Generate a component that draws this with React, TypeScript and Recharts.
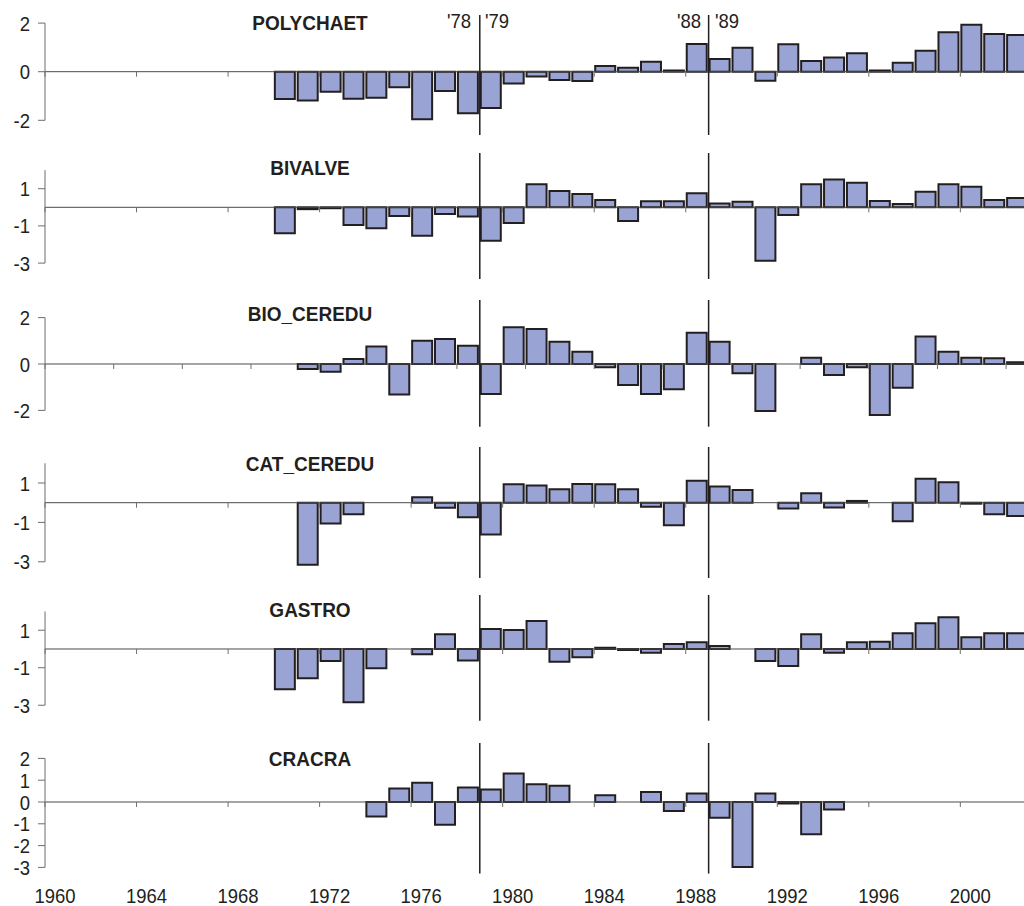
import React from 'react';
import { BarChart, Bar, XAxis, YAxis, ReferenceLine } from 'recharts';

const years = [
  1970, 1971, 1972, 1973, 1974, 1975, 1976, 1977, 1978, 1979,
  1980, 1981, 1982, 1983, 1984, 1985, 1986, 1987, 1988, 1989,
  1990, 1991, 1992, 1993, 1994, 1995, 1996, 1997, 1998, 1999,
  2000, 2001, 2002,
];

const polychaet = [
  -1.12, -1.19, -0.82, -1.11, -1.07, -0.64, -1.96, -0.79, -1.71, -1.49,
  -0.49, -0.2, -0.34, -0.38, 0.23, 0.16, 0.41, 0.05, 1.14, 0.52,
  0.99, -0.37, 1.13, 0.44, 0.58, 0.76, 0.05, 0.37, 0.86, 1.62,
  1.93, 1.55, 1.51,
];
const bivalve = [
  -1.4, -0.1, -0.05, -0.95, -1.13, -0.47, -1.53, -0.36, -0.5, -1.8,
  -0.85, 1.24, 0.88, 0.72, 0.39, -0.74, 0.32, 0.32, 0.75, 0.21,
  0.3, -2.87, -0.41, 1.24, 1.5, 1.32, 0.34, 0.18, 0.84, 1.24,
  1.11, 0.39, 0.5,
];
const bioCeredu = [
  null, -0.22, -0.33, 0.22, 0.75, -1.31, 1.0, 1.08, 0.79, -1.29,
  1.58, 1.51, 0.96, 0.53, -0.14, -0.91, -1.29, -1.09, 1.35, 0.96,
  -0.4, -2.03, null, 0.27, -0.47, -0.14, -2.2, -1.02, 1.18, 0.53,
  0.27, 0.25, 0.07,
];
const catCeredu = [
  null, -3.15, -1.05, -0.59, null, null, 0.28, -0.25, -0.74, -1.61,
  0.94, 0.87, 0.68, 0.95, 0.94, 0.68, -0.2, -1.14, 1.12, 0.82,
  0.65, null, -0.29, 0.48, -0.24, 0.09, null, -0.94, 1.21, 1.04,
  -0.05, -0.58, -0.68,
];
const gastro = [
  -2.15, -1.56, -0.64, -2.84, -1.03, null, -0.28, 0.78, -0.62, 1.07,
  1.01, 1.49, -0.68, -0.44, 0.07, -0.05, -0.2, 0.27, 0.36, 0.16,
  null, -0.64, -0.91, 0.78, -0.2, 0.36, 0.39, 0.84, 1.37, 1.69,
  0.62, 0.84, 0.84,
];
const cracra = [
  null, null, null, null, -0.66, 0.62, 0.88, -1.04, 0.66, 0.57,
  1.31, 0.81, 0.74, null, 0.31, null, 0.46, -0.41, 0.39, -0.72,
  -2.98, 0.39, -0.07, -1.48, -0.34, null, null, null, null, null,
  null, null, null,
];

const titles = ['POLYCHAET', 'BIVALVE', 'BIO_CEREDU', 'CAT_CEREDU', 'GASTRO', 'CRACRA'];
const seriesList = [polychaet, bivalve, bioCeredu, catCeredu, gastro, cracra];
const yTicksList = [
  [2, 0, -2],
  [1, -1, -3],
  [2, 0, -2],
  [1, -1, -3],
  [1, -1, -3],
  [2, 1, 0, -1, -2, -3],
];
const yAxisRange = [
  [-2, 2],
  [-3, 2],
  [-2, 2],
  [-3, 2],
  [-3, 2],
  [-3, 2],
];
const xTicks = [1960, 1964, 1968, 1972, 1976, 1980, 1984, 1988, 1992, 1996, 2000];
const xTicks3 = [1960, 1963, 1966, 1969, 1972, 1975, 1978, 1981, 1984, 1987, 1990, 1993, 1996, 1999, 2002];
const breakYears = [1979, 1989];
const breakLabels = ["'78", "'79", "'88", "'89"];

// layout (px) for each panel: plot top, plot bottom, zero line y, px per unit, title centre y
const layout = [
  { top: 15, bottom: 135, zero: 71.7, ppu: 24.3, titleY: 22.5, zeroTicks: xTicks },
  { top: 153, bottom: 279, zero: 207.3, ppu: 18.6, titleY: 168.3, zeroTicks: xTicks },
  { top: 300, bottom: 426.7, zero: 364, ppu: 23.2, titleY: 314.3, zeroTicks: xTicks3 },
  { top: 447, bottom: 578, zero: 502.7, ppu: 19.7, titleY: 463.7, zeroTicks: xTicks },
  { top: 595, bottom: 720.7, zero: 649, ppu: 18.75, titleY: 610, zeroTicks: xTicks },
  { top: 742.7, bottom: 873.3, zero: 801.7, ppu: 21.8, titleY: 758.8, zeroTicks: xTicks },
];

const FONT = '"Liberation Sans", Arial, Helvetica, sans-serif';
const FS = 18.5;
const SY = 1.14;
const INK = '#231f20';
const FILL = '#9aa4d4';
const CHART_W = 1029;
const AXIS_W = 45;
const X_AXIS_H = 33;
const PAD_TOP = 12;
const PAD_BOTTOM = 6;

function YTick(props: any) {
  const { x, y, payload } = props;
  return (
    <text
      transform={`translate(${x},${y}) scale(1,${SY})`}
      x={0}
      y={0.358 * FS}
      textAnchor="end"
      fontSize={FS}
      fontFamily={FONT}
      fill={INK}
    >
      {String(payload.value)}
    </text>
  );
}

function XTick(props: any) {
  const { x, y, payload } = props;
  return (
    <text
      transform={`translate(${x + 10},${y + 29}) scale(1,${SY})`}
      x={0}
      y={0}
      textAnchor="middle"
      fontSize={FS}
      fontFamily={FONT}
      fill={INK}
    >
      {String(payload.value)}
    </text>
  );
}

function Panel({ index }: { index: number }) {
  const L = layout[index];
  const series = seriesList[index];
  const rows = years.map((yr, i) => ({ year: yr, mid: yr + 0.5, v: series[i] }));
  const yMax = (L.zero - L.top) / L.ppu;
  const yMin = -(L.bottom - L.zero) / L.ppu;
  const isLast = index === seriesList.length - 1;
  const plotH = L.bottom - L.top;
  const padBottom = isLast ? 0 : PAD_BOTTOM;
  const h = PAD_TOP + plotH + (isLast ? X_AXIS_H : 0) + padBottom;
  const tickLen = 5 / L.ppu;
  const [axLo, axHi] = yAxisRange[index];
  return (
    <div style={{ position: 'absolute', left: 0, top: L.top - PAD_TOP }}>
      <BarChart
        width={CHART_W}
        height={h}
        data={rows}
        margin={{ top: PAD_TOP, right: 0, bottom: padBottom, left: 0 }}
        barSize={20}
      >
        <XAxis
          type="number"
          dataKey="mid"
          domain={[1960, 2003]}
          allowDataOverflow
          ticks={xTicks}
          interval={0}
          hide={!isLast}
          axisLine={false}
          tickLine={false}
          tickSize={0}
          tickMargin={0}
          height={isLast ? X_AXIS_H : 0}
          tick={<XTick />}
        />
        <YAxis
          type="number"
          domain={[yMin, yMax]}
          allowDataOverflow
          ticks={yTicksList[index]}
          interval={0}
          width={AXIS_W}
          axisLine={false}
          tickLine={{ stroke: '#6d6d6d', strokeWidth: 1 }}
          tickSize={7}
          tickMargin={8}
          tick={<YTick />}
        />
        <ReferenceLine y={0} stroke="#4a4a4a" strokeWidth={1} />
        {L.zeroTicks.map((t) => (
          <ReferenceLine
            key={'zt' + t}
            segment={[{ x: t, y: 0 }, { x: t, y: -tickLen }]}
            stroke="#6d6d6d"
            strokeWidth={1}
          />
        ))}
        <ReferenceLine
          segment={[{ x: 1960, y: axLo }, { x: 1960, y: axHi }]}
          stroke="#6d6d6d"
          strokeWidth={1}
        />
        <Bar
          dataKey="v"
          fill={FILL}
          stroke={INK}
          strokeWidth={2}
          isAnimationActive={false}
        />
        {breakYears.map((b) => (
          <ReferenceLine key={'b' + b} x={b} stroke={INK} strokeWidth={1.5} />
        ))}
      </BarChart>
    </div>
  );
}

const labelStyle: React.CSSProperties = {
  position: 'absolute',
  fontFamily: FONT,
  color: INK,
  whiteSpace: 'nowrap',
  lineHeight: 'normal',
};

export default function App() {
  const breakLabelX = [459, 497, 689, 727];
  return (
    <div
      style={{
        position: 'fixed',
        left: 0,
        top: 0,
        width: 1024,
        height: 906,
        overflow: 'hidden',
        background: '#fff',
      }}
    >
      {seriesList.map((_, i) => (
        <Panel key={i} index={i} />
      ))}
      {titles.map((t, i) => (
        <div
          key={t}
          style={{
            ...labelStyle,
            left: 310,
            top: layout[i].titleY,
            fontSize: 19,
            fontWeight: 'bold',
            transform: `translate(-50%, -50%) scale(1, 1.1)`,
          }}
        >
          {t}
        </div>
      ))}
      {breakLabels.map((t, i) => (
        <div
          key={t}
          style={{
            ...labelStyle,
            left: breakLabelX[i],
            top: 21,
            fontSize: FS,
            transform: `translate(-50%, -50%) scale(1, ${SY})`,
          }}
        >
          {t}
        </div>
      ))}
    </div>
  );
}
